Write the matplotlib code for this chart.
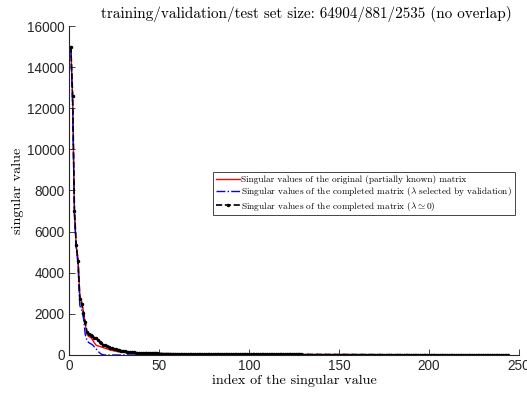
import numpy as np
import matplotlib
matplotlib.use("Agg")
from matplotlib import pyplot as plt

# singular values (index 1..244)
head_original = [15000, 12500, 7000, 5300, 4700, 2900, 2600, 2100, 1500, 1000,
                 900, 850, 750, 600, 480, 440, 420, 390, 360, 330,
                 300, 270, 240, 220, 200, 180, 165, 150, 140, 130,
                 120, 115, 110, 105, 100]
head_lambda0 = [15000, 12600, 7000, 5350, 4550, 2700, 2500, 2050, 1600, 1100,
                1000, 950, 900, 850, 820, 740, 650, 560, 500, 470,
                420, 380, 350, 320, 300, 270, 250, 230, 210, 190,
                175, 160, 150, 140, 130]
head_validation = [14900, 12000, 6800, 5200, 4400, 2400, 2200, 1800, 1000, 700,
                   600, 550, 500, 400, 300, 200, 100, 40, 10, 0]

# common slow tail (index 36..244)
tail = [122, 116, 110, 105, 100, 96, 92, 89, 86, 83, 80, 78, 76, 74, 72,
        70, 68, 67, 65, 64, 62, 61, 60, 59, 58, 57, 56, 55, 54, 53, 52, 51, 50, 50, 49, 48, 47, 47, 46, 45,
        45, 44, 44, 43, 42, 42, 41, 41, 40, 40, 39, 39, 38, 38, 37, 37, 36, 36, 36, 35, 35, 34, 34, 34, 33,
        33, 33, 32, 32, 32, 31, 31, 31, 30, 30, 30, 29, 29, 29, 28, 28, 28, 28, 27, 27, 27, 26, 26, 26, 26,
        25, 25, 25, 25, 24, 24, 24, 24, 23, 23, 23, 23, 22, 22, 22, 22, 21, 21, 21, 21, 21, 20, 20, 20, 20,
        19, 19, 19, 19, 19, 18, 18, 18, 18, 18, 17, 17, 17, 17, 17, 16, 16, 16, 16, 16, 15, 15, 15, 15, 15,
        14, 14, 14, 14, 14, 13, 13, 13, 13, 13, 12, 12, 12, 12, 12, 11, 11, 11, 11, 11, 10, 10, 10, 10, 10,
        9, 9, 9, 9, 9, 9, 8, 8, 8, 8, 8, 8, 7, 7, 7, 7, 7, 7, 6, 6, 6, 6, 6, 6, 5,
        5, 5, 5, 5, 5, 4, 4, 4, 4, 4, 3, 3, 3, 3, 2, 2, 2, 1, 1]

sv_original = np.array(head_original + tail, dtype=float)
sv_lambda0 = np.array(head_lambda0 + tail, dtype=float)
n = len(sv_original)
# completed matrix with validated lambda: everything past index 20 is ~0
sv_validation = np.array(head_validation + [0.0] * (n - len(head_validation)))
idx = np.arange(1, n + 1)

labels = ['Singular values of the original (partially known) matrix',
          r'Singular values of the completed matrix ($\lambda$ selected by validation)',
          r'Singular values of the completed matrix ($\lambda \simeq 0$)']

plt.rcParams['mathtext.fontset'] = 'cm'
plt.rcParams['axes.unicode_minus'] = False
tickfont = 'Liberation Sans'
textfont = 'cmr10'

fig = plt.figure(figsize=(5.27, 3.94), dpi=100)
ax = fig.add_axes([0.131, 0.099, 0.854, 0.835])

ax.plot(idx, sv_original, '-', color='red', lw=1.0, label=labels[0])
ax.plot(idx, sv_validation, '-.', color='blue', lw=1.0, label=labels[1])
ax.plot(idx, sv_lambda0, '--', color='black', lw=1.2, marker='.', ms=3, label=labels[2])

ax.set_xlim(0, 250)
ax.set_ylim(0, 16000)
ax.set_xticks(np.arange(0, 251, 50))
ax.set_yticks(np.arange(0, 16001, 2000))
for s in ['top', 'right']:
    ax.spines[s].set_visible(False)
for s in ['left', 'bottom']:
    ax.spines[s].set_linewidth(0.8)
    ax.spines[s].set_color('#262626')
ax.tick_params(direction='in', length=4, width=0.6, colors='#262626', labelsize=9.8, pad=3)
for lab in ax.get_xticklabels() + ax.get_yticklabels():
    lab.set_fontfamily(tickfont)

ax.set_title('training/validation/test set size: 64904/881/2535 (no overlap)',
             fontfamily=textfont, fontsize=10.9, x=0.527, pad=6)
ax.set_xlabel('index of the singular value', fontfamily=textfont, fontsize=10.2, labelpad=1)
ax.set_ylabel('singular value', fontfamily=textfont, fontsize=10.2, labelpad=2)

leg = ax.legend(loc='upper left', bbox_to_anchor=(0.32, 0.556), prop={'family': textfont, 'size': 6.7},
                fancybox=False, framealpha=1, edgecolor='#262626', handlelength=2.6,
                handletextpad=0.1, labelspacing=0.15, borderpad=0.3, borderaxespad=0)
leg.get_frame().set_linewidth(0.6)

fig.savefig('out.png', dpi=100)
